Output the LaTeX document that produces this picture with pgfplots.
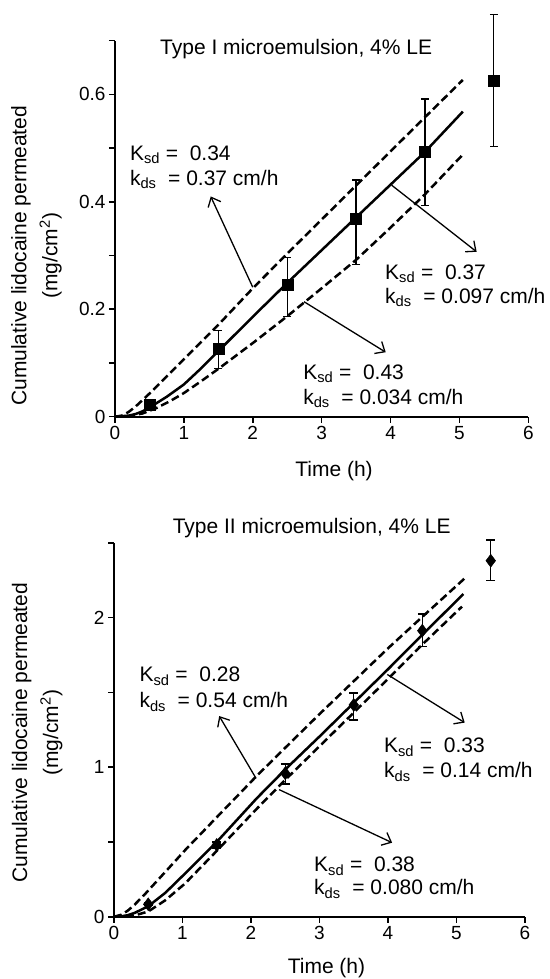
\documentclass[border=0pt]{standalone}
\usepackage{pgfplots}
\pgfplotsset{compat=1.18}
\usepackage{fontspec}
\setmainfont{Liberation Sans}
\usetikzlibrary{arrows.meta}
\newcommand{\lineA}[1]{K\textsubscript{sd} =\ \ #1}
\newcommand{\lineB}[1]{k\textsubscript{ds}\ \ = #1 cm/h}
\tikzset{
  ann/.style={font=\fontsize{21}{25}\selectfont, anchor=base west, inner sep=0pt},
  arr/.style={line width=1.3pt, -{Straight Barb[length=8pt, width=14pt, line width=1.3pt]}},
}
\begin{document}
\begin{tikzpicture}
\useasboundingbox (0pt,0pt) rectangle (549pt,979pt);
\pgfplotsset{
  myaxis/.style={
    scale only axis,
    axis x line*=bottom, axis y line*=left,
    axis line style={line width=1.9pt},
    tick style={line width=1.6pt, black},
    tick align=outside,
    major tick length=6pt,
    xmin=0, xmax=6, xtick={0,1,2,3,4,5,6},
    xticklabels={0,1,2,3,4,5,6},
    tick label style={font=\fontsize{19}{22}\selectfont},
    label style={font=\fontsize{21}{31}\selectfont},
    clip=false,
    xlabel={Time (h)},
    ylabel={Cumulative lidocaine permeated\\(mg/cm\textsuperscript{2})},
  },
  curve/.style={line width=2.5pt, black, no marks, solid},
  dcurve/.style={line width=2.5pt, black, no marks, dash pattern=on 8pt off 4pt},
}
% ---------------- Panel 1 ----------------
\begin{axis}[myaxis,
  at={(115pt,562.3pt)}, anchor=south west,
  width=413.3pt, height=376pt,
  ymin=0, ymax=0.7,
  ytick={0,0.1,0.2,0.3,0.4,0.5,0.6,0.7},
  yticklabels={0,,0.2,,0.4,,0.6,},
  xlabel style={at={(axis description cs:0.53,-0.158)}, anchor=base},
  ylabel style={at={(axis description cs:-0.19,0.428)}, anchor=center, align=center},
]
\addplot[dcurve] coordinates {(0,0) (0.1,0.002) (0.2,0.009) (0.3,0.019) (0.4,0.031) (0.5,0.043) (0.75,0.075) (1,0.107) (1.5,0.171) (2,0.239) (2.5,0.3035) (3,0.367) (3.5,0.4305) (4,0.494) (4.5,0.5575) (5.05,0.627)};
\addplot[curve] coordinates {(0,0) (0.2,0.002) (0.3,0.005) (0.4,0.01) (0.5,0.017) (0.75,0.037) (1,0.06) (1.25,0.09) (1.5,0.122) (2,0.186) (2.5,0.249) (3,0.31) (3.5,0.371) (4,0.432) (4.5,0.493) (5.05,0.568)};
\addplot[dcurve] coordinates {(0,0) (0.2,0.001) (0.4,0.006) (0.6,0.016) (0.8,0.029) (1,0.044) (1.25,0.066) (1.5,0.089) (1.75,0.113) (2,0.137) (2.5,0.187) (3,0.239) (3.5,0.292) (4,0.352) (4.5,0.414) (5.05,0.488)};
\addplot[only marks, mark=square*, mark size=5.5pt, black,
  error bars/.cd, y dir=both, y explicit,
  error bar style={line width=1.2pt, black},
  error mark options={rotate=90, mark size=4pt, line width=1.2pt, black}]
  table[x=x, y=y, y error plus=ep, y error minus=em] {
x y ep em
0.5 0.023 0.006 0.006
1.5 0.126 0.035 0.037
2.5 0.245 0.051 0.058
3.5 0.368 0.0725 0.084
4.5 0.4933 0.098 0.100
5.5 0.6254 0.124 0.123
};
\node[font=\fontsize{21}{25}\selectfont, anchor=base] at (axis cs:2.63,0.6745) {Type I microemulsion, 4\% LE};
\node[ann] at (axis cs:0.215,0.477) {\lineA{0.34}};
\node[ann] at (axis cs:0.215,0.431) {\lineB{0.37}};
\node[ann] at (axis cs:3.92,0.256) {\lineA{0.37}};
\node[ann] at (axis cs:3.92,0.211) {\lineB{0.097}};
\node[ann] at (axis cs:2.73,0.070) {\lineA{0.43}};
\node[ann] at (axis cs:2.73,0.023) {\lineB{0.034}};
\draw[arr] (axis cs:2.0,0.241) -- (axis cs:1.39,0.41);
\draw[arr] (axis cs:4.016,0.431) -- (axis cs:5.25,0.307);
\draw[arr] (axis cs:2.745,0.214) -- (axis cs:3.93,0.12);
\end{axis}
% ---------------- Panel 2 ----------------
\begin{axis}[myaxis,
  at={(114pt,62.3pt)}, anchor=south west,
  width=411pt, height=373.8pt,
  ymin=0, ymax=2.5,
  ytick={0,0.5,1,1.5,2,2.5},
  yticklabels={0,,1,,2,},
  xlabel style={at={(axis description cs:0.517,-0.153)}, anchor=base},
  ylabel style={at={(axis description cs:-0.187,0.492)}, anchor=center, align=center},
]
\addplot[dcurve] coordinates {(0,0) (0.1,0.012) (0.2,0.04) (0.3,0.08) (0.45,0.15) (0.75,0.3) (1.04,0.446) (1.5,0.665) (2.08,0.94) (2.5,1.13) (3,1.355) (3.5,1.575) (4,1.795) (4.5,2.005) (5.12,2.263)};
\addplot[curve] coordinates {(0,0) (0.1,0.002) (0.2,0.01) (0.3,0.025) (0.5,0.07) (0.75,0.16) (1.04,0.29) (1.5,0.5) (2.08,0.79) (2.5,0.985) (3,1.205) (3.5,1.43) (4,1.655) (4.5,1.885) (5.1,2.158)};
\addplot[dcurve] coordinates {(0,0) (0.2,0.002) (0.3,0.008) (0.5,0.035) (0.75,0.11) (1.04,0.223) (1.5,0.44) (2.08,0.72) (2.5,0.915) (3,1.14) (3.5,1.365) (4,1.59) (4.5,1.82) (5.08,2.074)};
\addplot[only marks, mark=diamond*, mark size=6.5pt, black,
  error bars/.cd, y dir=both, y explicit,
  error bar style={line width=1.2pt, black},
  error mark options={rotate=90, mark size=4.4pt, line width=1.2pt, black}]
  table[x=x, y=y, y error plus=ep, y error minus=em] {
x y ep em
0.5 0.083 0.01 0.01
1.5 0.48 0.02 0.02
2.5 0.959 0.062 0.072
3.5 1.416 0.08 0.10
4.5 1.913 0.112 0.105
5.5 2.381 0.139 0.134
};
\node[font=\fontsize{21}{25}\selectfont, anchor=base] at (axis cs:2.886,2.565) {Type II microemulsion, 4\% LE};
\node[ann] at (axis cs:0.37,1.57) {\lineA{0.28}};
\node[ann] at (axis cs:0.37,1.396) {\lineB{0.54}};
\node[ann] at (axis cs:3.94,1.097) {\lineA{0.33}};
\node[ann] at (axis cs:3.94,0.93) {\lineB{0.14}};
\node[ann] at (axis cs:2.92,0.30) {\lineA{0.38}};
\node[ann] at (axis cs:2.92,0.146) {\lineB{0.080}};
\draw[arr] (axis cs:2.074,0.925) -- (axis cs:1.536,1.342);
\draw[arr] (axis cs:3.99,1.62) -- (axis cs:5.12,1.298);
\draw[arr] (axis cs:2.41,0.85) -- (axis cs:4.06,0.495);
\end{axis}
\end{tikzpicture}
\end{document}
